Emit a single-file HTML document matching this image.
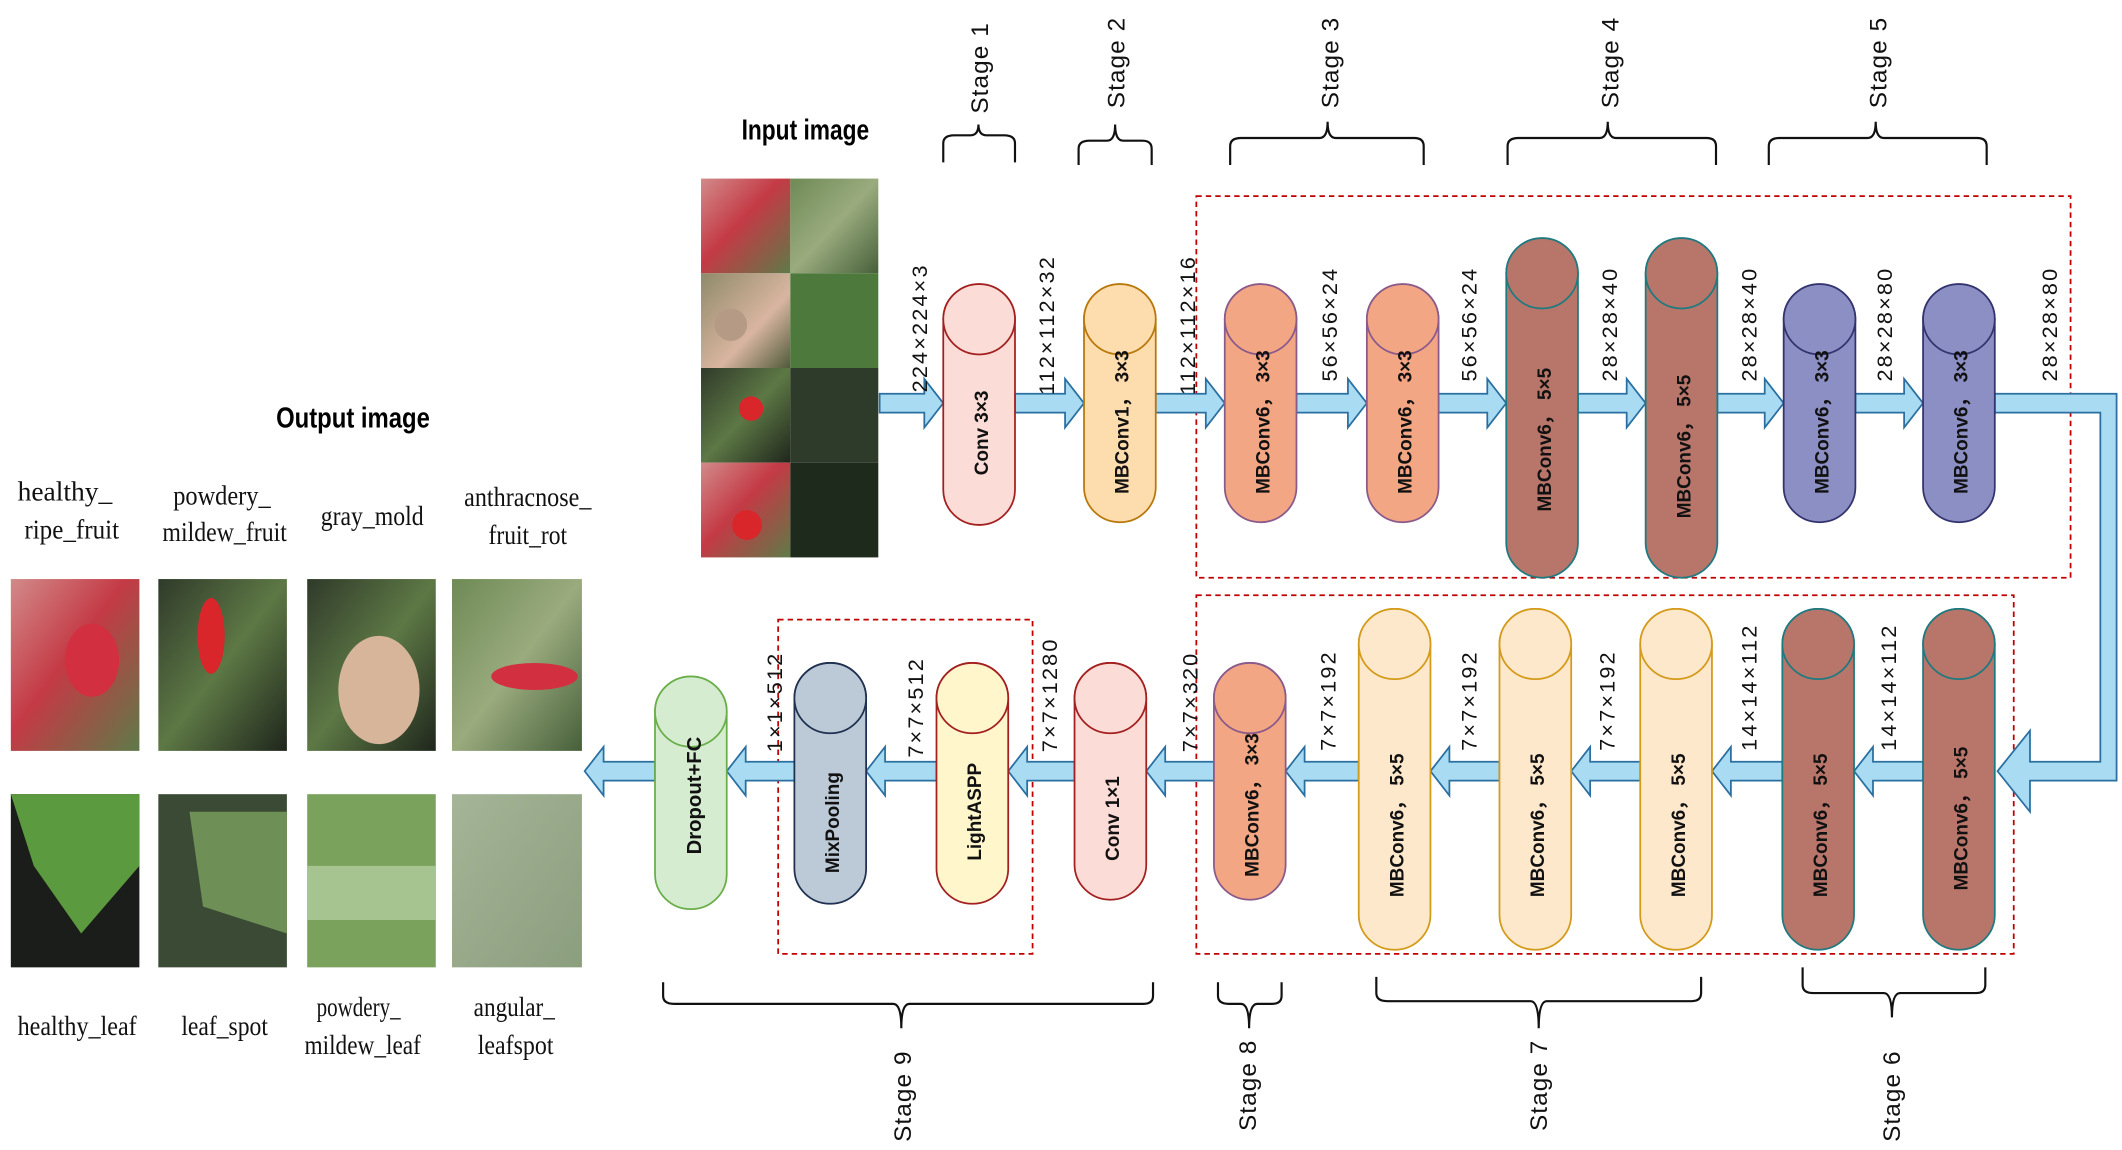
<!DOCTYPE html>
<html><head><meta charset="utf-8"><style>html,body{margin:0;padding:0;background:#fff}svg{display:block}</style></head>
<body>
<svg width="2122" height="1150" viewBox="0 0 1568 850" preserveAspectRatio="none" xmlns="http://www.w3.org/2000/svg" font-family="Liberation Sans, sans-serif">
<defs>
<linearGradient id="g1" x1="0" y1="0" x2="1" y2="1"><stop offset="0" stop-color="#6e8a55"/><stop offset=".5" stop-color="#9aab7e"/><stop offset="1" stop-color="#47603a"/></linearGradient>
<linearGradient id="g2" x1="0" y1="0" x2="1" y2="1"><stop offset="0" stop-color="#d28a8a"/><stop offset=".45" stop-color="#c43a45"/><stop offset="1" stop-color="#5e7a48"/></linearGradient>
<linearGradient id="g3" x1="0" y1="0" x2="1" y2="1"><stop offset="0" stop-color="#2f3a2a"/><stop offset=".5" stop-color="#5d7845"/><stop offset="1" stop-color="#1f261c"/></linearGradient>
<linearGradient id="g4" x1="0" y1="0" x2="1" y2="1"><stop offset="0" stop-color="#8f8a6a"/><stop offset=".6" stop-color="#d9b5a0"/><stop offset="1" stop-color="#4f5a3a"/></linearGradient>
<linearGradient id="g5" x1="0" y1="0" x2="1" y2="1"><stop offset="0" stop-color="#a5b597"/><stop offset="1" stop-color="#8b9e7e"/></linearGradient>
</defs>
<text x="548" y="103" font-size="21" font-weight="bold" transform="translate(548 0) scale(0.8 1) translate(-548 0)">Input image</text>
<text x="204" y="316" font-size="21" font-weight="bold" transform="translate(204 0) scale(0.84 1) translate(-204 0)">Output image</text>
<g>
<rect x="518" y="132" width="66" height="70" fill="url(#g2)"/><rect x="584" y="132" width="65" height="70" fill="url(#g1)"/>
<rect x="518" y="202" width="66" height="70" fill="url(#g4)"/><rect x="584" y="202" width="65" height="70" fill="#4d7a3c"/>
<rect x="518" y="272" width="66" height="70" fill="url(#g3)"/><rect x="584" y="272" width="65" height="70" fill="#2e3a2a"/>
<rect x="518" y="342" width="66" height="70" fill="url(#g2)"/><rect x="584" y="342" width="65" height="70" fill="#1e2a1c"/>
<circle cx="555" cy="302" r="9" fill="#d8262b"/><circle cx="552" cy="388" r="11" fill="#d8262b"/><circle cx="540" cy="240" r="12" fill="#b59a85"/>
</g>
<g>
<rect x="8" y="428" width="95" height="127" fill="url(#g2)"/><ellipse cx="68" cy="488" rx="20" ry="27" fill="#d23040"/>
<rect x="117" y="428" width="95" height="127" fill="url(#g3)"/><ellipse cx="156" cy="470" rx="10" ry="28" fill="#d8262b"/>
<rect x="227" y="428" width="95" height="127" fill="url(#g3)"/><ellipse cx="280" cy="510" rx="30" ry="40" fill="#d6b59a"/>
<rect x="334" y="428" width="96" height="127" fill="url(#g1)"/><ellipse cx="395" cy="500" rx="32" ry="10" fill="#d23040"/>
<rect x="8" y="587" width="95" height="128" fill="#1b1d1a"/><path d="M8 587 H103 V640 L60 690 L25 640 Z" fill="#5b9a3e"/>
<rect x="117" y="587" width="95" height="128" fill="#3b4a35"/><path d="M140 600 H212 V690 L150 670 Z" fill="#6e9057"/>
<rect x="227" y="587" width="95" height="128" fill="#7aa25c"/><rect x="227" y="640" width="95" height="40" fill="#a6c48f"/>
<rect x="334" y="587" width="96" height="128" fill="url(#g5)"/>
</g>
<g font-family="Liberation Serif, serif" font-size="20" text-anchor="middle" fill="#111">
<text x="48" y="370" textLength="70" lengthAdjust="spacingAndGlyphs">healthy_</text><text x="53" y="398" textLength="70" lengthAdjust="spacingAndGlyphs">ripe_fruit</text>
<text x="164" y="373" textLength="72" lengthAdjust="spacingAndGlyphs">powdery_</text><text x="166" y="400" textLength="92" lengthAdjust="spacingAndGlyphs">mildew_fruit</text>
<text x="275" y="388" textLength="76" lengthAdjust="spacingAndGlyphs">gray_mold</text>
<text x="390" y="374" textLength="94" lengthAdjust="spacingAndGlyphs">anthracnose_</text><text x="390" y="402" textLength="58" lengthAdjust="spacingAndGlyphs">fruit_rot</text>
<text x="57" y="765" textLength="88" lengthAdjust="spacingAndGlyphs">healthy_leaf</text><text x="166" y="765" textLength="64" lengthAdjust="spacingAndGlyphs">leaf_spot</text>
<text x="265" y="751" textLength="62" lengthAdjust="spacingAndGlyphs">powdery_</text><text x="268" y="779" textLength="86" lengthAdjust="spacingAndGlyphs">mildew_leaf</text>
<text x="380" y="751" textLength="60" lengthAdjust="spacingAndGlyphs">angular_</text><text x="381" y="779" textLength="56" lengthAdjust="spacingAndGlyphs">leafspot</text>
</g>
<g fill="none" stroke="#c00000" stroke-width="1.3" stroke-dasharray="4 3">
<rect x="884" y="145" width="646" height="282"/>
<rect x="884" y="440" width="604" height="265"/>
<rect x="575" y="458" width="188" height="247"/>
</g>
<g fill="#a9dcf2" stroke="#2a6fa0" stroke-width="1.3">
<polygon points="650,291 683,291 683,280 697,298 683,316 683,305 650,305"/>
<polygon points="750,291 787,291 787,280 801,298 787,316 787,305 750,305"/>
<polygon points="854,291 891,291 891,280 905,298 891,316 891,305 854,305"/>
<polygon points="958,291 996,291 996,280 1010,298 996,316 996,305 958,305"/>
<polygon points="1063,291 1099,291 1099,280 1113,298 1099,316 1099,305 1063,305"/>
<polygon points="1166,291 1202,291 1202,280 1216,298 1202,316 1202,305 1166,305"/>
<polygon points="1269,291 1304,291 1304,280 1318,298 1304,316 1304,305 1269,305"/>
<polygon points="1371,291 1407,291 1407,280 1421,298 1407,316 1407,305 1371,305"/>
<polygon points="1474,291 1564,291 1564,577 1500,577 1500,600 1476,570 1500,540 1500,563 1552,563 1552,305 1474,305"/>
<polygon points="1421,563 1384,563 1384,552 1370,570 1384,588 1384,577 1421,577"/>
<polygon points="1317,563 1279,563 1279,552 1265,570 1279,588 1279,577 1317,577"/>
<polygon points="1212,563 1175,563 1175,552 1161,570 1175,588 1175,577 1212,577"/>
<polygon points="1108,563 1071,563 1071,552 1057,570 1071,588 1071,577 1108,577"/>
<polygon points="1004,563 964,563 964,552 950,570 964,588 964,577 1004,577"/>
<polygon points="897,563 861,563 861,552 847,570 861,588 861,577 897,577"/>
<polygon points="794,563 759,563 759,552 745,570 759,588 759,577 794,577"/>
<polygon points="692,563 654,563 654,552 640,570 654,588 654,577 692,577"/>
<polygon points="587,563 551,563 551,552 537,570 551,588 551,577 587,577"/>
<polygon points="484,563 446,563 446,552 432,570 446,588 446,577 484,577"/>
</g>
<g stroke-width="1.3">
<g fill="#fcdcd6" stroke="#a32020"><rect x="697" y="210" width="53" height="178" rx="26.5" ry="26"/><ellipse cx="723.5" cy="236" rx="26.5" ry="26"/></g>
<g fill="#fddcae" stroke="#b8780a"><rect x="801" y="210" width="53" height="176" rx="26.5" ry="26"/><ellipse cx="827.5" cy="236" rx="26.5" ry="26"/></g>
<g fill="#f3a683" stroke="#8a5a8a"><rect x="905" y="210" width="53" height="176" rx="26.5" ry="26"/><ellipse cx="931.5" cy="236" rx="26.5" ry="26"/>
<rect x="1010" y="210" width="53" height="176" rx="26.5" ry="26"/><ellipse cx="1036.5" cy="236" rx="26.5" ry="26"/>
<rect x="897" y="490" width="53" height="175" rx="26.5" ry="26"/><ellipse cx="923.5" cy="516" rx="26.5" ry="26"/></g>
<g fill="#b8756a" stroke="#1f7a80"><rect x="1113" y="176" width="53" height="251" rx="26.5" ry="26"/><ellipse cx="1139.5" cy="202" rx="26.5" ry="26"/>
<rect x="1216" y="176" width="53" height="251" rx="26.5" ry="26"/><ellipse cx="1242.5" cy="202" rx="26.5" ry="26"/>
<rect x="1317" y="450" width="53" height="252" rx="26.5" ry="26"/><ellipse cx="1343.5" cy="476" rx="26.5" ry="26"/>
<rect x="1421" y="450" width="53" height="252" rx="26.5" ry="26"/><ellipse cx="1447.5" cy="476" rx="26.5" ry="26"/></g>
<g fill="#8c8fc4" stroke="#33336e"><rect x="1318" y="210" width="53" height="176" rx="26.5" ry="26"/><ellipse cx="1344.5" cy="236" rx="26.5" ry="26"/>
<rect x="1421" y="210" width="53" height="176" rx="26.5" ry="26"/><ellipse cx="1447.5" cy="236" rx="26.5" ry="26"/></g>
<g fill="#fde8cc" stroke="#d49a1a"><rect x="1004" y="450" width="53" height="252" rx="26.5" ry="26"/><ellipse cx="1030.5" cy="476" rx="26.5" ry="26"/>
<rect x="1108" y="450" width="53" height="252" rx="26.5" ry="26"/><ellipse cx="1134.5" cy="476" rx="26.5" ry="26"/>
<rect x="1212" y="450" width="53" height="252" rx="26.5" ry="26"/><ellipse cx="1238.5" cy="476" rx="26.5" ry="26"/></g>
<g fill="#fcdcd6" stroke="#a32020"><rect x="794" y="490" width="53" height="175" rx="26.5" ry="26"/><ellipse cx="820.5" cy="516" rx="26.5" ry="26"/></g>
<g fill="#fff6cc" stroke="#a32020"><rect x="692" y="490" width="53" height="178" rx="26.5" ry="26"/><ellipse cx="718.5" cy="516" rx="26.5" ry="26"/></g>
<g fill="#bccad8" stroke="#1f3050"><rect x="587" y="490" width="53" height="178" rx="26.5" ry="26"/><ellipse cx="613.5" cy="516" rx="26.5" ry="26"/></g>
<g fill="#d6ecd0" stroke="#6aae4a"><rect x="484" y="500" width="53" height="172" rx="26.5" ry="26"/><ellipse cx="510.5" cy="526" rx="26.5" ry="26"/></g>
</g>
<g font-size="14" font-weight="bold" fill="#111" text-anchor="middle">
<text transform="translate(730 320) rotate(-90)">Conv 3×3</text>
<text transform="translate(834 312) rotate(-90)">MBConv1， 3×3</text>
<text transform="translate(938 312) rotate(-90)">MBConv6， 3×3</text>
<text transform="translate(1043 312) rotate(-90)">MBConv6， 3×3</text>
<text transform="translate(1146 325) rotate(-90)">MBConv6， 5×5</text>
<text transform="translate(1249 330) rotate(-90)">MBConv6， 5×5</text>
<text transform="translate(1351 312) rotate(-90)">MBConv6， 3×3</text>
<text transform="translate(1454 312) rotate(-90)">MBConv6， 3×3</text>
<text transform="translate(930 595) rotate(-90)">MBConv6， 3×3</text>
<text transform="translate(1037 610) rotate(-90)">MBConv6， 5×5</text>
<text transform="translate(1141 610) rotate(-90)">MBConv6， 5×5</text>
<text transform="translate(1245 610) rotate(-90)">MBConv6， 5×5</text>
<text transform="translate(1350 610) rotate(-90)">MBConv6， 5×5</text>
<text transform="translate(1454 605) rotate(-90)">MBConv6， 5×5</text>
<text transform="translate(827 605) rotate(-90)">Conv 1×1</text>
<text transform="translate(725 600) rotate(-90)">LightASPP</text>
<text transform="translate(620 608) rotate(-90)">MixPooling</text>
<text font-size="15" transform="translate(518 588) rotate(-90)">Dropout+FC</text>
</g>
<g font-size="16" fill="#111" letter-spacing="1.6">
<text transform="translate(685 290) rotate(-90)">224×224×3</text>
<text transform="translate(779 292) rotate(-90)">112×112×32</text>
<text transform="translate(883 292) rotate(-90)">112×112×16</text>
<text transform="translate(988 282) rotate(-90)">56×56×24</text>
<text transform="translate(1091 282) rotate(-90)">56×56×24</text>
<text transform="translate(1195 282) rotate(-90)">28×28×40</text>
<text transform="translate(1298 282) rotate(-90)">28×28×40</text>
<text transform="translate(1398 282) rotate(-90)">28×28×80</text>
<text transform="translate(1520 282) rotate(-90)">28×28×80</text>
<text transform="translate(1401 555) rotate(-90)">14×14×112</text>
<text transform="translate(1298 555) rotate(-90)">14×14×112</text>
<text transform="translate(1193 555) rotate(-90)">7×7×192</text>
<text transform="translate(1091 555) rotate(-90)">7×7×192</text>
<text transform="translate(987 555) rotate(-90)">7×7×192</text>
<text transform="translate(885 556) rotate(-90)">7×7×320</text>
<text transform="translate(781 556) rotate(-90)">7×7×1280</text>
<text transform="translate(682 560) rotate(-90)">7×7×512</text>
<text transform="translate(578 556) rotate(-90)">1×1×512</text>
</g>
<g fill="none" stroke="#111" stroke-width="1.6">
<path d="M697 120 V106 Q697 100 705 100 H717 Q723 100 723 92 Q723 100 729 100 H742 Q750 100 750 106 V120"/>
<path d="M797 122 V110 Q797 104 805 104 H818 Q824 104 824 92 Q824 104 830 104 H844 Q851 104 851 110 V122"/>
<path d="M909 122 V108 Q909 102 917 102 H975 Q981 102 981 90 Q981 102 987 102 H1045 Q1052 102 1052 108 V122"/>
<path d="M1114 122 V108 Q1114 102 1122 102 H1182 Q1188 102 1188 90 Q1188 102 1194 102 H1261 Q1268 102 1268 108 V122"/>
<path d="M1307 122 V108 Q1307 102 1315 102 H1380 Q1386 102 1386 90 Q1386 102 1392 102 H1461 Q1468 102 1468 108 V122"/>
<path d="M490 726 V736 Q490 742 498 742 H660 Q666 742 666 760 Q666 742 672 742 H845 Q852 742 852 736 V726"/>
<path d="M900 726 V736 Q900 742 908 742 H917 Q923 742 923 760 Q923 742 929 742 H940 Q947 742 947 736 V726"/>
<path d="M1017 722 V734 Q1017 740 1025 740 H1131 Q1137 740 1137 760 Q1137 740 1143 740 H1250 Q1257 740 1257 734 V722"/>
<path d="M1332 715 V728 Q1332 734 1340 734 H1392 Q1398 734 1398 752 Q1398 734 1404 734 H1460 Q1467 734 1467 728 V715"/>
</g>
<g font-size="18" fill="#111" letter-spacing="0.8">
<text transform="translate(730 84) rotate(-90)">Stage 1</text>
<text transform="translate(831 80) rotate(-90)">Stage 2</text>
<text transform="translate(989 80) rotate(-90)">Stage 3</text>
<text transform="translate(1196 80) rotate(-90)">Stage 4</text>
<text transform="translate(1394 80) rotate(-90)">Stage 5</text>
<text transform="translate(673 844) rotate(-90)">Stage 9</text>
<text transform="translate(928 836) rotate(-90)">Stage 8</text>
<text transform="translate(1143 836) rotate(-90)">Stage 7</text>
<text transform="translate(1404 844) rotate(-90)">Stage 6</text>
</g>
</svg>
</body></html>
